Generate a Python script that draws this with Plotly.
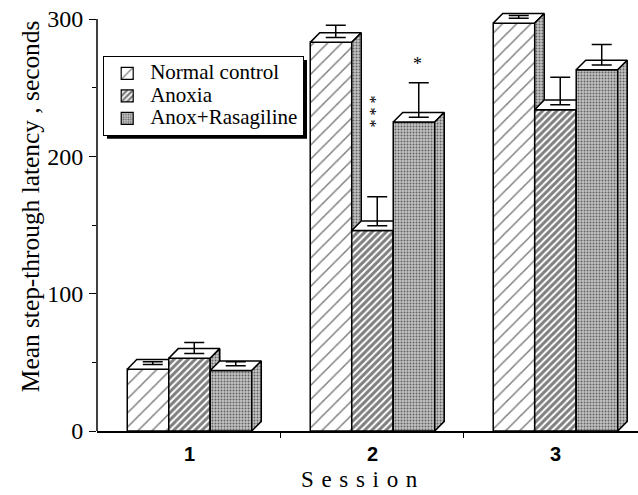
import plotly.graph_objects as go

# ---- data ----
sessions = ["1", "2", "3"]
groups = ["Normal control", "Anoxia", "Anox+Rasagiline"]
normal = [45, 283, 297]
anoxia = [53, 146, 234]
rasag = [44, 225, 263]
normal_err = [2, 9, 2]
anoxia_err = [8, 21, 20]
rasag_err = [3, 25, 15]
y_ticks = [0, 100, 200, 300]
y_minor = [50, 150, 250]

values = [normal, anoxia, rasag]
errors = [normal_err, anoxia_err, rasag_err]

# ---- geometry / style ----
W = 0.2268   # bar width (category units)
DX = 0.052   # 3D depth offset in x (category units)
DY = 7.0     # 3D depth offset in y (data units)

front_patterns = [
    dict(shape="/", size=10, solidity=0.15, fgcolor="black", bgcolor="white"),
    dict(shape="/", size=5, solidity=0.6, fgcolor="black", bgcolor="white"),
    dict(shape=".", size=3, solidity=0.35, fgcolor="black", bgcolor="#c4c4c4"),
]
side_pattern = front_patterns[2]
LINE = dict(color="black", width=1.5)
SERIF = "Liberation Serif"

fig = go.Figure()


def face(xs, ys, pattern):
    kw = dict(x=xs, y=ys, mode="lines", fill="toself", line=LINE,
              fillcolor="white", hoverinfo="skip", showlegend=False)
    if pattern is not None:
        kw["fillpattern"] = pattern
    fig.add_trace(go.Scatter(**kw))


for i, s in enumerate(sessions):
    for j in range(len(groups)):
        v = values[j][i]
        x0 = i + (j - 1) * W - W / 2
        x1 = x0 + W
        face([x0, x1, x1, x0, x0], [0, 0, v, v, 0], front_patterns[j])                 # front
        face([x0, x1, x1 + DX, x0 + DX, x0], [v, v, v + DY, v + DY, v], None)          # top
        face([x1, x1 + DX, x1 + DX, x1, x1], [0, DY, v + DY, v, 0], side_pattern)      # side
        fig.add_trace(go.Scatter(                                                       # error bar
            x=[x0 + W / 2 + DX / 2], y=[v + DY / 2], mode="markers",
            marker=dict(size=1, color="rgba(0,0,0,0)"),
            error_y=dict(type="data", symmetric=False, array=[errors[j][i]],
                         arrayminus=[0], color="black", thickness=1.5, width=10),
            hoverinfo="skip", showlegend=False))

# legend entries
for j, g in enumerate(groups):
    fig.add_trace(go.Bar(x=[None], y=[None],
                         name='<span style="font-size:21px">' + g + '</span>',
                         marker=dict(color="white", pattern=front_patterns[j],
                                     line=dict(color="black", width=1.2))))

# significance marks
fig.add_annotation(x=0.992, y=232.7, text="* * *", textangle=90, showarrow=False,
                   xanchor="center", yanchor="middle",
                   font=dict(family=SERIF, size=16, color="black"))
fig.add_annotation(x=1.245, y=267.5, text="*", showarrow=False,
                   font=dict(family=SERIF, size=18, color="black"))

# axis titles (as annotations to match their placement)
fig.add_annotation(xref="paper", yref="paper", x=-0.124, y=0.5275,
                   text="Mean step-through latency , seconds", textangle=-90,
                   showarrow=False, xanchor="center", yanchor="middle",
                   font=dict(family=SERIF, size=25.4, color="black"))
fig.add_annotation(xref="paper", yref="paper", x=0.486, y=-0.1137,
                   text="\u00a0\u200a".join("Session"),
                   showarrow=False, xanchor="center", yanchor="middle",
                   font=dict(family=SERIF, size=23, color="black"))

fig.update_layout(
    width=638, height=495,
    margin=dict(l=97, r=0, t=5, b=63.5),
    paper_bgcolor="white", plot_bgcolor="white",
    showlegend=True,
    legend=dict(x=0.0111, y=0.8804, xanchor="left", yanchor="top",
                bgcolor="white", bordercolor="black", borderwidth=1.2,
                font=dict(family=SERIF, size=15, color="black"),
                tracegroupgap=0, itemwidth=36),
    xaxis=dict(range=[-0.5055, 2.451], tickvals=[0, 1, 2], ticktext=sessions,
               ticks="", showgrid=False, zeroline=False, automargin=False,
               showline=True, linecolor="black", linewidth=1.5,
               tickfont=dict(family="Liberation Sans", size=20, color="black", weight="bold"),
               ticklabelstandoff=4,
               minor=dict(tickvals=[0.5, 1.5], ticks="outside", ticklen=5,
                          tickcolor="black", tickwidth=1.2)),
    yaxis=dict(range=[0, 310.2], tickvals=y_ticks, ticktext=[str(t) for t in y_ticks],
               ticks="outside", ticklen=7, tickcolor="black", tickwidth=1.3,
               showgrid=False, zeroline=False, showline=False, automargin=False,
               tickfont=dict(family=SERIF, size=24, color="black"),
               ticklabelstandoff=1, ticklabeloverflow="allow",
               minor=dict(tickvals=y_minor, ticks="outside", ticklen=4,
                          tickcolor="black", tickwidth=1.2)),
    shapes=[
        dict(type="line", xref="paper", yref="y", x0=0, x1=0, y0=0, y1=300,
             line=dict(color="black", width=1.5)),
        dict(type="rect", xref="paper", yref="paper",
             x0=(107 - 97) / 541, x1=(307 - 97) / 541,
             y0=(431.5 - 139) / 426.5, y1=(431.5 - 60) / 426.5,
             fillcolor="black", line=dict(width=0), layer="above"),
    ],
)

# remove the browser's default 8px body margin so the figure sits at the page origin
fig.write_html("out.html", config={"displayModeBar": False},
               post_script="document.body.style.margin='0px';")
